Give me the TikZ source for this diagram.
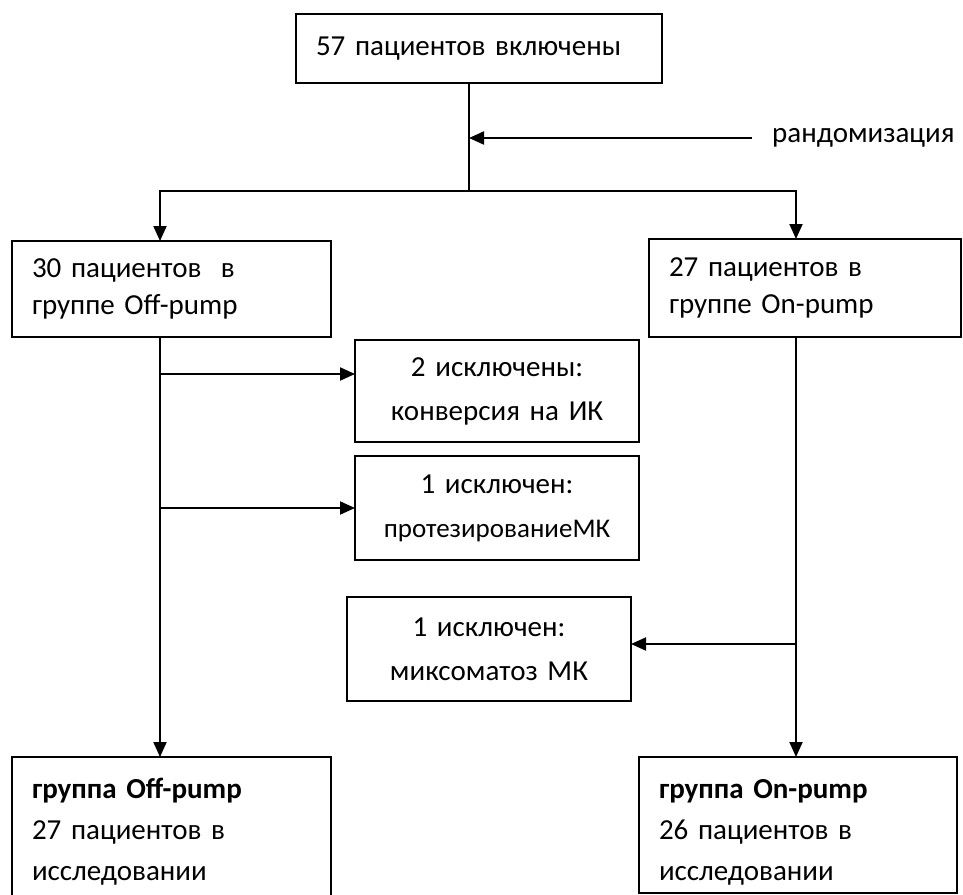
\documentclass[tikz,border=0pt]{standalone}
\usepackage{fontspec}
\setmainfont{Carlito}
\usetikzlibrary{arrows.meta}
\begin{document}
\begin{tikzpicture}[x=1pt,y=-1pt,
  box/.style={draw, line width=2pt, anchor=north west, outer sep=0pt, inner xsep=20pt, inner ysep=0pt, align=left, font=\fontsize{29}{37}\selectfont},
  cbox/.style={box, align=center, font=\fontsize{29}{44}\selectfont},
  fbox/.style={box, font=\fontsize{29}{41}\selectfont},
  arr/.style={-{Triangle[length=15pt,width=13pt]}, line width=2pt}]
\clip (0,0) rectangle (963,894);
\node[box, text width=326pt, minimum width=366pt, minimum height=69pt] (top) at (296,14) {57 пациентов включены};
\node[box, text width=279pt, minimum width=319pt, minimum height=96pt] (off) at (12,241) {30 пациентов \ в\\группе Off-pump};
\node[box, text width=272pt, minimum width=312pt, minimum height=98pt] (on) at (649,239) {27 пациентов в\\группе On-pump};
\node[cbox, text width=244pt, minimum width=284pt, minimum height=102pt] (ex1) at (355,340) {2 исключены:\\конверсия на ИК};
\node[cbox, text width=244pt, minimum width=284pt, minimum height=104pt] (ex2) at (355,456) {1 исключен:\\{\fontsize{27}{40}\selectfont протезированиеМК}};
\node[cbox, text width=244pt, minimum width=284pt, minimum height=104pt] (ex3) at (347,597) {1 исключен:\\миксоматоз МК};
\node[fbox, text width=279pt, minimum width=319pt, minimum height=150pt] (offf) at (12,757) {\textbf{группа Off-pump}\\27 пациентов в\\исследовании};
\node[fbox, text width=278pt, minimum width=318pt, minimum height=136pt] (onf) at (639,757) {\rule{0pt}{34pt}\textbf{группа On-pump}\\26 пациентов в\\исследовании};
\node[anchor=west, inner sep=0pt, font=\fontsize{29}{35}\selectfont] (rand) at (772,138) {рандомизация};
\coordinate (split) at (469,191);
\coordinate (lx) at (160,0);
\coordinate (rx) at (796,0);
\draw[line width=2pt] (split |- top.south) -- (split);
\draw[arr] (split) -| (lx |- off.north);
\draw[arr] (split) -| (rx |- on.north);
\draw[arr] ([xshift=-20pt]rand.west) -- (split |- rand.west);
\draw[arr] (lx |- off.south) -- (lx |- offf.north);
\draw[arr] (rx |- on.south) -- (rx |- onf.north);
\draw[arr] ([yshift=17pt]lx |- ex1.west) -- ([yshift=17pt]ex1.west);
\draw[arr] (lx |- ex2.west) -- (ex2.west);
\draw[arr] ([yshift=5pt]rx |- ex3.east) -- ([yshift=5pt]ex3.east);
\end{tikzpicture}
\end{document}
